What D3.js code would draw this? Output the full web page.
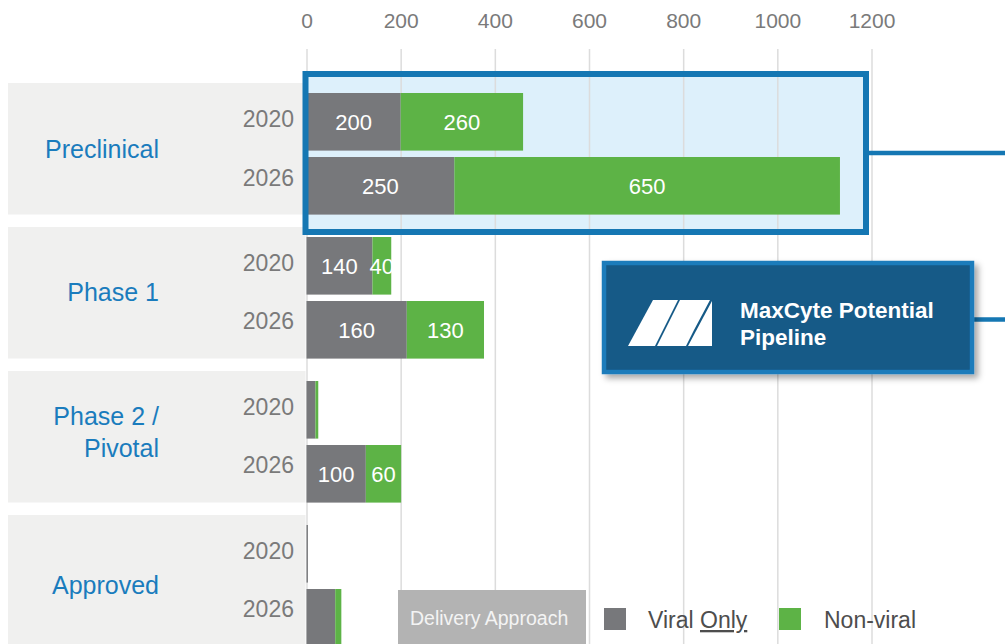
<!DOCTYPE html>
<html>
<head>
<meta charset="utf-8">
<script src="https://cdn.jsdelivr.net/npm/d3@7"></script>
<style>
  html, body { margin: 0; padding: 0; background: #ffffff; }
  svg { display: block; font-family: "Liberation Sans", Arial, sans-serif; }
</style>
</head>
<body>
<svg width="1005" height="644"></svg>
<script>
// values (bar lengths in axis units, labels as printed)
const categories = ['Preclinical', 'Phase 1', 'Phase 2 / Pivotal', 'Approved']
const categoryLines = [['Preclinical'], ['Phase 1'], ['Phase 2 /', 'Pivotal'], ['Approved']]
const years = ['2020', '2026']
const xTicks = [0, 200, 400, 600, 800, 1000, 1200]

const viral2020 = [200, 140, 19, 3]
const nonViral2020 = [260, 40, 6, 0]
const viral2026 = [314, 213, 126, 61]
const nonViral2026 = [819, 164, 75, 13]

const viralLabels2020 = ['200', '140', '', '']
const nonViralLabels2020 = ['260', '40', '', '']
const viralLabels2026 = ['250', '160', '100', '']
const nonViralLabels2026 = ['650', '130', '60', '']

const legendNames = ['Viral Only', 'Non-viral']

const grey = '#77787b'
const green = '#5db346'
const blue = '#1a7cbd'

const rows = []
categories.forEach((cat, i) => {
  rows.push({ cat, year: '2020', viral: viral2020[i], nonViral: nonViral2020[i],
              vLab: viralLabels2020[i], nLab: nonViralLabels2020[i] })
  rows.push({ cat, year: '2026', viral: viral2026[i], nonViral: nonViral2026[i],
              vLab: viralLabels2026[i], nLab: nonViralLabels2026[i] })
})

const svg = d3.select('svg')

const x = d3.scaleLinear()
            .domain([0, 1200])
            .range([306.5, 871.5])

const yCat = d3.scaleBand()
               .domain(categories)
               .range([83, 646.5])
               .paddingInner(0.0868)

const yYear = d3.scaleBand()
                .domain(years)
                .range([10, 131.6])
                .paddingInner(0.1)

const yYearLabel = d3.scalePoint()
                     .domain(years)
                     .range([44, 102.5])

const defs = svg.append('defs')
const shadow = defs.append('filter')
                   .attr('id', 'shadow')
                   .attr('x', '-10%').attr('y', '-10%')
                   .attr('width', '130%').attr('height', '140%')
shadow.append('feDropShadow')
      .attr('dx', 4).attr('dy', 4)
      .attr('stdDeviation', 3)
      .attr('flood-color', '#000')
      .attr('flood-opacity', 0.35)

// category backgrounds
svg.append('g')
   .selectAll('rect')
   .data(categories)
   .join('rect')
   .attr('x', 8)
   .attr('y', d => yCat(d))
   .attr('width', x(0) - 9)
   .attr('height', yCat.bandwidth())
   .style('fill', '#f0f0ef')

// highlight box fill
const pre = yCat('Preclinical')
svg.append('rect')
   .attr('x', 305.5)
   .attr('y', pre - 9)
   .attr('width', 560.5)
   .attr('height', 158)
   .style('fill', '#ddf0fb')

// gridlines
const grid = svg.append('g')
                .attr('transform', 'translate(0, 49)')
                .call(d3.axisBottom(x).tickValues(xTicks).tickSize(600).tickFormat(''))
grid.select('.domain').remove()
grid.selectAll('line').style('stroke', '#dcdcdc').style('stroke-width', 1.5)

// top axis labels
const axis = svg.append('g')
                .attr('transform', 'translate(0, 49)')
                .call(d3.axisTop(x).tickValues(xTicks).tickSize(0).tickPadding(21)
                        .tickFormat(d3.format('d')))
axis.select('.domain').remove()
axis.selectAll('text')
    .style('font-size', '21px')
    .style('font-family', '"Liberation Sans", Arial, sans-serif')
    .style('fill', '#7a7a7a')

// bars
const barG = svg.append('g')
const rowY = d => yCat(d.cat) + yYear(d.year)

barG.selectAll('rect.viral')
    .data(rows)
    .join('rect')
    .attr('class', 'viral')
    .attr('x', x(0))
    .attr('y', rowY)
    .attr('width', d => x(d.viral) - x(0))
    .attr('height', yYear.bandwidth())
    .style('fill', grey)

barG.selectAll('rect.nonviral')
    .data(rows)
    .join('rect')
    .attr('class', 'nonviral')
    .attr('x', d => x(d.viral))
    .attr('y', rowY)
    .attr('width', d => x(d.viral + d.nonViral) - x(d.viral))
    .attr('height', yYear.bandwidth())
    .style('fill', green)

// value labels
barG.selectAll('text.vlab')
    .data(rows.filter(d => d.vLab))
    .join('text')
    .attr('class', 'vlab')
    .attr('x', d => (x(0) + x(d.viral)) / 2)
    .attr('y', d => rowY(d) + yYear.bandwidth() / 2 + 8)
    .attr('text-anchor', 'middle')
    .style('font-size', '22px')
    .style('fill', '#ffffff')
    .text(d => d.vLab)

barG.selectAll('text.nlab')
    .data(rows.filter(d => d.nLab))
    .join('text')
    .attr('class', 'nlab')
    .attr('x', d => (x(d.viral) + x(d.viral + d.nonViral)) / 2)
    .attr('y', d => rowY(d) + yYear.bandwidth() / 2 + 8)
    .attr('text-anchor', 'middle')
    .style('font-size', '22px')
    .style('fill', '#ffffff')
    .text(d => d.nLab)

// year labels
svg.append('g')
   .selectAll('text')
   .data(rows)
   .join('text')
   .attr('x', 294)
   .attr('y', d => yCat(d.cat) + yYearLabel(d.year))
   .attr('text-anchor', 'end')
   .style('font-size', '23px')
   .style('fill', '#7a7a7a')
   .text(d => d.year)

// category labels
const catText = svg.append('g')
                   .selectAll('text')
                   .data(categories)
                   .join('text')
                   .attr('text-anchor', 'end')
                   .style('font-size', '25px')
                   .style('fill', blue)
catText.each(function(d, i) {
  const lines = categoryLines[i]
  // last band is cut by the page edge, its label sits a little lower
  const shift = i === categories.length - 1 ? 5 : 0
  const base = yCat(d) + 74.5 + shift - (lines.length - 1) * 20
  d3.select(this).selectAll('tspan')
    .data(lines)
    .join('tspan')
    .attr('x', 159)
    .attr('y', (l, j) => base + j * 32)
    .text(l => l)
})

// highlight box stroke
svg.append('rect')
   .attr('x', 305.5)
   .attr('y', pre - 9)
   .attr('width', 560.5)
   .attr('height', 158)
   .style('fill', 'none')
   .style('stroke', '#1577b3')
   .style('stroke-width', 6)

// connector lines
svg.append('line')
   .attr('x1', 869).attr('x2', 1005)
   .attr('y1', 153).attr('y2', 153)
   .style('stroke', '#1577b3').style('stroke-width', 4.5)
svg.append('line')
   .attr('x1', 974).attr('x2', 1005)
   .attr('y1', 319.5).attr('y2', 319.5)
   .style('stroke', '#1577b3').style('stroke-width', 4.5)

// MaxCyte callout
const callout = svg.append('g')
callout.append('rect')
       .attr('x', 604).attr('y', 263)
       .attr('width', 368).attr('height', 109)
       .attr('filter', 'url(#shadow)')
       .style('fill', '#155a87')
       .style('stroke', '#1a7bbb')
       .style('stroke-width', 4.5)

const logo = callout.append('g').attr('transform', 'translate(628, 300)')
const logoParts = [
  [[0, 46], [25, 0], [50, 0], [27, 46]],
  [[29, 46], [52, 0], [82, 0], [66, 30], [58, 46]],
  [[60, 46], [84, 1], [84, 46]]
]
logo.selectAll('polygon')
    .data(logoParts)
    .join('polygon')
    .attr('points', d => d.map(p => p.join(',')).join(' '))
    .style('fill', '#ffffff')

callout.append('text')
       .attr('x', 740).attr('y', 318)
       .style('font-size', '22.5px')
       .style('font-weight', 'bold')
       .style('fill', '#ffffff')
       .text('MaxCyte Potential')
callout.append('text')
       .attr('x', 740).attr('y', 345)
       .style('font-size', '22.5px')
       .style('font-weight', 'bold')
       .style('fill', '#ffffff')
       .text('Pipeline')

// legend
const legend = svg.append('g')
legend.append('rect')
      .attr('x', 398).attr('y', 590)
      .attr('width', 188).attr('height', 60)
      .style('fill', '#b3b3b3')
legend.append('text')
      .attr('x', 410).attr('y', 625)
      .style('font-size', '19.5px')
      .style('fill', '#f4f4f4')
      .text('Delivery Approach')

legend.append('rect')
      .attr('x', 604).attr('y', 608)
      .attr('width', 22).attr('height', 22)
      .style('fill', grey)
const viralText = legend.append('text')
      .attr('x', 648).attr('y', 628)
      .style('font-size', '23px')
      .style('fill', '#4d4d4d')
viralText.append('tspan').text(legendNames[0].split(' ')[0] + ' ')
viralText.append('tspan')
         .style('text-decoration', 'underline')
         .text(legendNames[0].split(' ')[1])

legend.append('rect')
      .attr('x', 779).attr('y', 608)
      .attr('width', 22).attr('height', 22)
      .style('fill', green)
legend.append('text')
      .attr('x', 824).attr('y', 628)
      .style('font-size', '23px')
      .style('fill', '#4d4d4d')
      .text(legendNames[1])
</script>
</body>
</html>
